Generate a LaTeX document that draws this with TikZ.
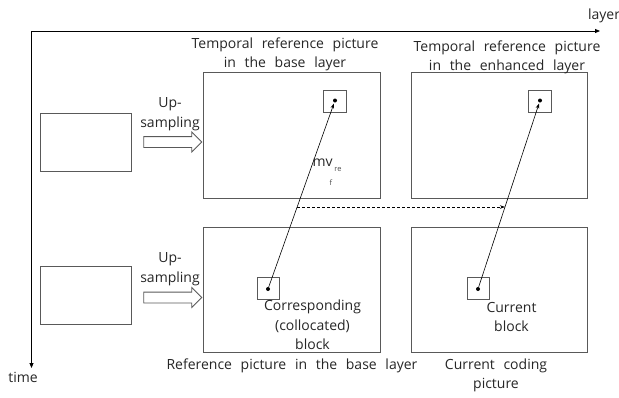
\documentclass[tikz,border=0pt]{standalone}
\usepackage{fontspec}
\setmainfont{Open Sans}
\usetikzlibrary{arrows.meta,shapes.arrows}
% wider inter-word spacing for the labels
\newcommand\widewords{\spaceskip=0.62em\relax}
\begin{document}
\begin{tikzpicture}[x=1pt,y=-1pt,
  frame/.style={draw=black!65,line width=0.9pt,inner sep=0pt,rectangle},
  blk/.style={draw=black!65,line width=0.8pt,inner sep=0pt,minimum width=22.5pt,minimum height=22.5pt},
  dotmark/.style={circle,fill=black,inner sep=0pt,minimum size=4pt},
  lbl/.style={font=\fontsize{14}{19.5}\selectfont\widewords,align=center,inner sep=0pt,text=black!85},
  upsample/.style={single arrow,draw=black!65,line width=0.8pt,inner sep=5pt,
    single arrow head extend=4.5pt,single arrow tip angle=90,minimum height=58pt,
    shape border rotate=0},
  axis/.style={draw=black,line width=0.8pt,-{Triangle[length=5pt,width=4pt]}},
  mvline/.style={draw=black,line width=0.6pt,-{Stealth[length=5pt,width=3.5pt]},shorten >=1pt}
]
\useasboundingbox (0,0) rectangle (619,397);

% axes
\coordinate (o) at (31.5,31);
\coordinate (lend) at (600,31);
\coordinate (tend) at (31.5,368);
\draw[axis] (o) -- (lend);
\draw[axis] (o) -- (tend);
\node[lbl] (layerlbl) at (604,16) {layer};
\node[lbl] (timelbl) at (23,377) {time};

% base layer pictures before up-sampling
\node[frame,minimum width=91pt,minimum height=58pt] (lowT) at (85.5,142) {};
\node[frame,minimum width=91pt,minimum height=58pt] (lowB) at (85.5,295.5) {};

% up-sampling arrows
\node[upsample] (upT) at (170,142) {};
\node[upsample] (upB) at (170,297.5) {};
\node[lbl] (upTlbl) at (170,114) {Up-\\sampling};
\node[lbl] (upBlbl) at (170,269) {Up-\\sampling};

% pictures
\node[frame,minimum width=177pt,minimum height=126pt] (refT) at (291.5,135) {};
\node[frame,minimum width=176pt,minimum height=126pt] (enhT) at (499,135) {};
\node[frame,minimum width=177pt,minimum height=125pt] (refB) at (291.5,289.5) {};
\node[frame,minimum width=176pt,minimum height=125pt] (cur) at (499,289.5) {};

% blocks
\node[blk] (bT) at (335,101.5) {};
\node[blk] (bE) at (540,101.5) {};
\node[blk] (bB) at (268.5,288.5) {};
\node[blk] (bC) at (478.5,288.5) {};
\node[dotmark] (dT) at (335,100.5) {};
\node[dotmark] (dE) at (540,100.5) {};
\node[dotmark] (dB) at (268,289) {};
\node[dotmark] (dC) at (478,289) {};

% motion vectors
\draw[mvline] (dB) -- (dT);
\draw[mvline] (dC) -- (dE);
\node[lbl,anchor=west] (mv) at (312.5,163) {mv};
\node[font=\fontsize{7.5}{8}\selectfont,text=black!70,inner sep=0pt] (mvsub) at (338,169) {re};
\node[font=\fontsize{7.5}{8}\selectfont,text=black!70,inner sep=0pt] (mvsubf) at (331,183) {f};

% dashed projection
\coordinate (ds) at (297,207);
\coordinate (de) at (505,207);
\draw[line width=0.6pt,dashed,dash pattern=on 3pt off 2pt,-{Stealth[length=5pt,width=3.5pt]}] (ds) -- (de);

% labels
\node[lbl] (tRef) at (285,54.5) {Temporal reference picture\\in the base layer};
\node[lbl] (tEnh) at (507,57.5) {Temporal reference picture\\in the enhanced layer};
\node[lbl] (cor) at (312.5,325) {Corresponding\\(collocated)\\block};
\node[lbl] (curblk) at (511.5,317) {Current\\block};
\node[lbl] (bRef) at (292,366) {Reference picture in the base layer};
\node[lbl] (bCur) at (496,375.5) {Current coding\\picture};
\end{tikzpicture}
\end{document}
